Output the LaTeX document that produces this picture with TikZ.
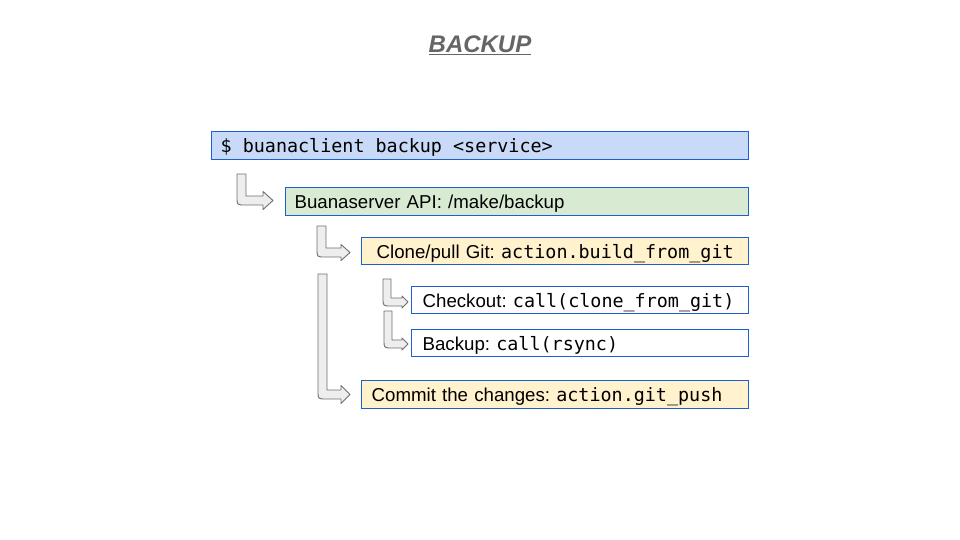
\documentclass[tikz,border=0pt]{standalone}
\usepackage{fontspec}
\setmainfont{Liberation Sans}
\newfontfamily\codefont{DejaVu Sans Mono}[Scale=0.985]
\definecolor{boxblue}{HTML}{1C5FD2}
\definecolor{fillblue}{HTML}{C9DAF8}
\definecolor{fillgreen}{HTML}{D9EAD3}
\definecolor{fillyellow}{HTML}{FFF2CC}
\definecolor{titlegray}{HTML}{666666}
\definecolor{arrowline}{HTML}{6F6F6F}
\definecolor{arrowfill}{HTML}{EEEEEE}
\newcommand{\cd}[1]{{\codefont\spaceskip=\fontcharwd\font`a\relax\xspaceskip=\spaceskip #1}}
\newcommand{\bentarrow}[7]{% x1, ytop, ybot, xtip, t, hh, hl
  \pgfmathsetmacro{\ba}{#1+#5}
  \pgfmathsetmacro{\bb}{#3-#5}
  \pgfmathsetmacro{\bc}{#3-#5/2}
  \pgfmathsetmacro{\bd}{#4-#7}
  \pgfmathsetmacro{\be}{\bc-#6}
  \pgfmathsetmacro{\bf}{\bc+#6}
  \pgfmathsetmacro{\bg}{#1+8}
  \pgfmathsetmacro{\bh}{#3-8}
  \draw[bentstyle] (#1,#2) -- (\ba,#2) -- (\ba,\bb) -- (\bd,\bb) -- (\bd,\be) -- (#4,\bc) -- (\bd,\bf) -- (\bd,#3) -- (\bg,#3) .. controls (#1,#3) .. (#1,\bh) -- cycle;
}
\tikzset{
  box/.style={draw=boxblue, line width=1.3pt, anchor=north west, font=\fontsize{18.67}{22}\selectfont\frenchspacing, align=left, inner ysep=0pt, text height=17.5pt, text depth=3pt},
  bentstyle/.style={draw=arrowline, fill=arrowfill, line width=0.9pt, line join=round},
  titlestyle/.style={font=\fontsize{24}{28}\selectfont\bfseries\itshape, text=titlegray}
}
\begin{document}
\begin{tikzpicture}[x=1pt,y=-1pt]
\useasboundingbox (0,0) rectangle (960,540);
\node[titlestyle] (title) at (480,45) {\underline{BACKUP}};
% boxes: width = text width + 2*sep
\node[box, fill=fillblue, inner xsep=9pt, text width=519pt, minimum height=28pt] (b1) at (211,131) {\mbox{\cd{\$ buanaclient backup <service>}}};
\node[box, fill=fillgreen, inner xsep=9pt, text width=445pt, minimum height=28pt] (b2) at (285,187) {\mbox{Buanaserver API: /make/backup}};
\node[box, fill=fillyellow, inner xsep=15pt, text width=357pt, minimum height=27pt] (b3) at (361,237) {\mbox{Clone/pull Git: \cd{action.build\_from\_git}}};
\node[box, fill=white, inner xsep=11pt, text width=315pt, minimum height=27pt] (b4) at (411,286) {\mbox{Checkout: \cd{call(clone\_from\_git)}}};
\node[box, fill=white, inner xsep=11pt, text width=315pt, minimum height=27pt] (b5) at (411,329) {\mbox{Backup: \cd{call(rsync)}}};
\node[box, fill=fillyellow, inner xsep=10pt, text width=367pt, minimum height=28pt] (b6) at (361,380) {\mbox{Commit the changes: \cd{action.git\_push}}};
% bent arrows
\bentarrow{237}{174}{205}{273}{9}{9}{10}
\bentarrow{317}{226}{257}{350}{9}{8}{9}
\bentarrow{318}{274}{399}{350}{9}{9}{9}
\bentarrow{383}{279}{306}{408}{8}{6}{6}
\bentarrow{384}{311}{348}{408}{8}{6}{6}
\end{tikzpicture}
\end{document}
